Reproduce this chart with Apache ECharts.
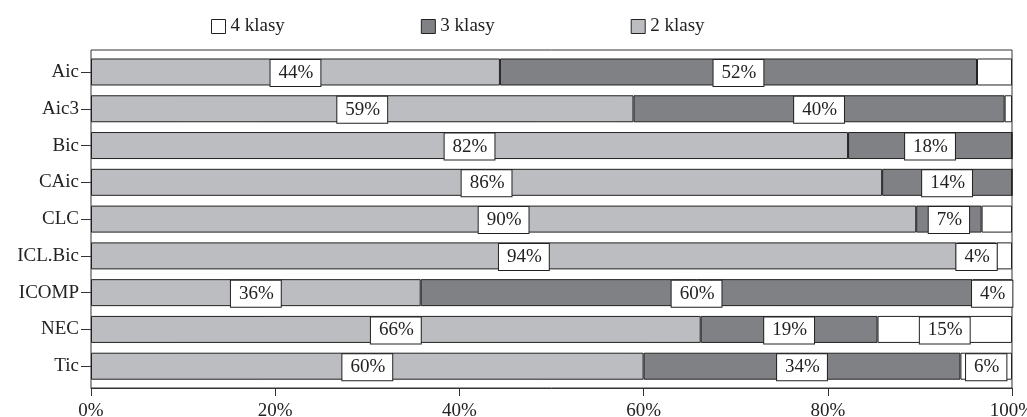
<!DOCTYPE html>
<html>
<head>
<meta charset="utf-8">
<script src="https://cdn.jsdelivr.net/npm/echarts@6/dist/echarts.min.js"></script>
<style>html,body{margin:0;padding:0;background:#fff}#c{width:1027px;height:417px}</style>
</head>
<body>
<div id="c"></div>
<script>
const categories = ['Aic', 'Aic3', 'Bic', 'CAic', 'CLC', 'ICL.Bic', 'ICOMP', 'NEC', 'Tic'];
const klasy2 = [44.4, 58.9, 82.2, 85.9, 89.6, 94.0, 35.8, 66.2, 60.0];
const klasy3 = [51.8, 40.3, 17.8, 14.1, 7.1, 4.3, 59.9, 19.2, 34.4];
const klasy4 = [3.8, 0.8, 0, 0, 3.3, 1.7, 4.3, 14.6, 5.6];
const xTicks = [0, 20, 40, 60, 80, 100];
const labelMin = 4;

const FONT = 'Liberation Serif';
const chart = echarts.init(document.getElementById('c'), null, {renderer: 'canvas'});

function mkSeries(name, data, color) {
  return {
    name: name,
    type: 'bar',
    stack: 'total',
    xAxisIndex: 0,
    yAxisIndex: 0,
    barWidth: 27,
    data: data.map(v => ({value: v, label: {show: v >= labelMin}})),
    itemStyle: {color: color, borderColor: '#222', borderWidth: 1},
    label: {
      position: 'inside',
      formatter: p => Math.round(p.value) + '%',
      fontFamily: FONT,
      fontSize: 19,
      color: '#222',
      lineHeight: 22,
      backgroundColor: '#fff',
      borderColor: '#222',
      borderWidth: 1,
      padding: [2, 7, 2, 8],
      offset: [0, 1]
    },
    emphasis: {disabled: true}
  };
}

chart.setOption({
  animation: false,
  backgroundColor: '#fff',
  legend: {
    data: ['4 klasy', '3 klasy', '2 klasy'],
    left: 206,
    top: 12,
    itemWidth: 14,
    itemHeight: 14,
    itemGap: 136,
    icon: 'rect',
    textStyle: {fontFamily: FONT, fontSize: 19, color: '#222'},
    itemStyle: {borderColor: '#222', borderWidth: 1}
  },
  grid: [
    {left: 91, right: 15, top: 53.6, height: 331, outerBoundsMode: 'none', containLabel: false},
    {left: 91, right: 15, top: 50, height: 338, outerBoundsMode: 'none', show: true, borderColor: '#333', borderWidth: 1, backgroundColor: 'transparent'}
  ],
  xAxis: [
    {type: 'value', gridIndex: 0, min: 0, max: 100, show: false},
    {
      type: 'value', gridIndex: 1, min: 0, max: 100, interval: 20,
      axisLine: {show: true, lineStyle: {color: '#333', width: 1}},
      axisTick: {show: true, length: 8, lineStyle: {color: '#333'}},
      splitLine: {show: false},
      axisLabel: {
        formatter: v => (xTicks.includes(v) ? v + '%' : ''),
        fontFamily: FONT, fontSize: 19, color: '#222', margin: 14,
        alignMaxLabel: 'center', alignMinLabel: 'center'
      }
    }
  ],
  yAxis: [
    {
      type: 'category', gridIndex: 0, data: categories, inverse: true,
      axisLine: {show: false},
      axisTick: {show: true, alignWithLabel: true, length: 10, lineStyle: {color: '#333'}},
      axisLabel: {fontFamily: FONT, fontSize: 19, color: '#222', margin: 12},
      splitLine: {show: false}
    },
    {type: 'value', gridIndex: 1, min: 0, max: 1, show: false}
  ],
  series: [
    mkSeries('2 klasy', klasy2, '#bcbdc0'),
    mkSeries('3 klasy', klasy3, '#808184'),
    mkSeries('4 klasy', klasy4, '#ffffff')
  ]
});
</script>
</body>
</html>
